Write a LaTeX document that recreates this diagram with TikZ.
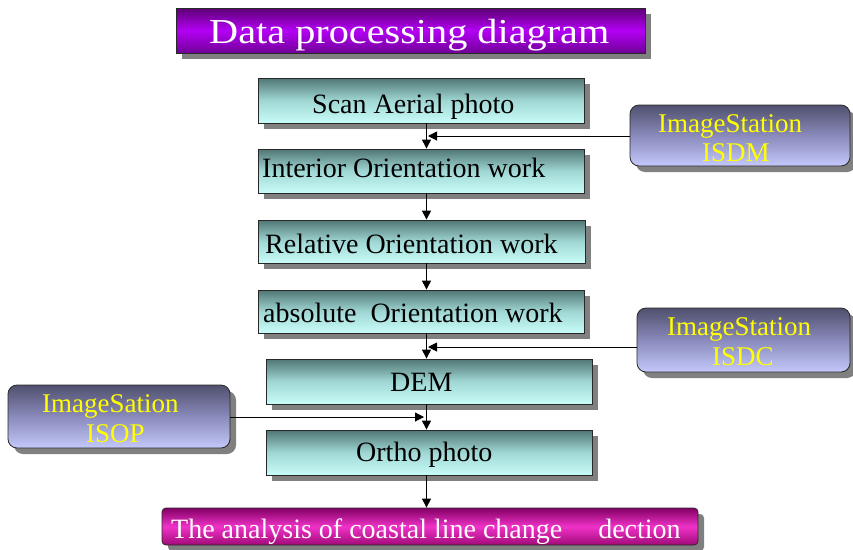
\documentclass[tikz,border=0pt]{standalone}
\usepackage{fontspec}
\setmainfont{Liberation Serif}
\newfontfamily\titlefont[FakeStretch=1.15]{Liberation Serif}
\usetikzlibrary{arrows.meta,shadows}
\definecolor{shadowgray}{RGB}{128,128,128}
\definecolor{boxline}{RGB}{40,40,40}
\definecolor{tealtop}{RGB}{80,118,116}
\definecolor{tealmid}{RGB}{160,215,212}
\definecolor{tealbot}{RGB}{200,252,248}
\definecolor{sidetop}{RGB}{80,80,110}
\definecolor{sidemid}{RGB}{138,138,188}
\definecolor{sidebot}{RGB}{196,200,250}
\definecolor{titletop}{RGB}{92,0,116}
\definecolor{titlemid}{RGB}{180,0,245}
\definecolor{titlebot}{RGB}{112,0,150}
\definecolor{endtop}{RGB}{130,0,100}
\definecolor{endmid}{RGB}{240,50,200}
\definecolor{endbot}{RGB}{160,10,120}
\definecolor{ytext}{RGB}{255,255,0}
\begin{document}
\begin{tikzpicture}[x=1pt,y=-1pt,
  shad/.style={drop shadow={shadow xshift=6pt,shadow yshift=-6pt,fill=shadowgray,opacity=1}},
  basebox/.style={rectangle,draw=boxline,line width=0.8pt,inner sep=0pt,shad},
  tealbox/.style={basebox,top color=tealtop,bottom color=tealbot,middle color=tealmid},
  sidebox/.style={basebox,rounded corners=9pt,top color=sidetop,bottom color=sidebot,middle color=sidemid},
  titlebox/.style={basebox,top color=titletop,bottom color=titlebot,middle color=titlemid},
  endbox/.style={basebox,rounded corners=4pt,top color=endtop,bottom color=endbot,middle color=endmid},
  ttxt/.style={inner sep=0pt,anchor=base west,text=black,font=\fontsize{28}{32}\selectfont},
  ytxt/.style={inner sep=0pt,anchor=base west,text=ytext,font=\fontsize{27}{30}\selectfont},
  wtxt/.style={inner sep=0pt,anchor=base west,text=white,font=\fontsize{28}{32}\selectfont},
  arr/.style={line width=1pt,-{Triangle[length=9pt,width=9pt]}},
]
\fill[white] (0,0) rectangle (853,549);
\useasboundingbox (0,0) rectangle (853,549);

% title
\node[titlebox,minimum width=469pt,minimum height=45pt] (title) at (410.5,30.5) {};
\node[inner sep=0pt,anchor=base west,text=white,font=\titlefont\fontsize{35}{40}\selectfont] (titletxt) at (209,43) {Data processing diagram};

% main chain
\node[tealbox,minimum width=326pt,minimum height=45pt] (scan) at (421,100.5) {};
\node[ttxt] (scantxt) at (312,113) {Scan Aerial photo};
\node[tealbox,minimum width=326pt,minimum height=44pt] (interior) at (421,171) {};
\node[ttxt] (interiortxt) at (262,177) {Interior Orientation work};
\node[tealbox,minimum width=327pt,minimum height=43pt] (relative) at (421.5,241.5) {};
\node[ttxt] (relativetxt) at (265,253) {Relative Orientation work};
\node[tealbox,minimum width=326pt,minimum height=43pt] (absolute) at (421,311.5) {};
\node[ttxt] (absolutetxt) at (263,322) {absolute\ \ Orientation work};
\node[tealbox,minimum width=326pt,minimum height=45pt] (dem) at (429,381.5) {};
\node[ttxt] (demtxt) at (390,391) {DEM};
\node[tealbox,minimum width=326pt,minimum height=45pt] (ortho) at (429,452.5) {};
\node[ttxt] (orthotxt) at (356,461) {Ortho photo};
\node[endbox,minimum width=536pt,minimum height=37pt] (final) at (430,526.5) {};
\node[wtxt] (finaltxt) at (171,538) {The analysis of coastal line change\hspace{36pt}dection};

% side boxes
\node[sidebox,minimum width=220pt,minimum height=61pt] (isdm) at (740,135.5) {};
\node[ytxt] (isdm1) at (658,132) {ImageStation};
\node[ytxt] (isdm2) at (702,161) {ISDM};
\node[sidebox,minimum width=213pt,minimum height=64pt] (isdc) at (743.5,340) {};
\node[ytxt] (isdc1) at (667,335) {ImageStation};
\node[ytxt] (isdc2) at (712,365) {ISDC};
\node[sidebox,minimum width=222pt,minimum height=63pt] (isop) at (119,416.5) {};
\node[ytxt] (isop1) at (42,412) {ImageSation};
\node[ytxt] (isop2) at (86,442) {ISOP};

% connectors
\coordinate (sp) at (426.5,0);
\draw[arr] (scan.south -| sp) -- (interior.north -| sp);
\draw[arr] (interior.south -| sp) -- (relative.north -| sp);
\draw[arr] (relative.south -| sp) -- (absolute.north -| sp);
\draw[arr] (absolute.south -| sp) -- (dem.north -| sp);
\draw[arr] (dem.south -| sp) -- (ortho.north -| sp);
\draw[arr] (ortho.south -| sp) -- (final.north -| sp);

\coordinate (j1) at (428,136);
\coordinate (j2) at (428,347);
\coordinate (j3) at (424,417);
\draw[arr] (isdm.west |- j1) -- (j1);
\draw[arr] (isdc.west |- j2) -- (j2);
\draw[arr] (isop.east |- j3) -- (j3);
\end{tikzpicture}
\end{document}
